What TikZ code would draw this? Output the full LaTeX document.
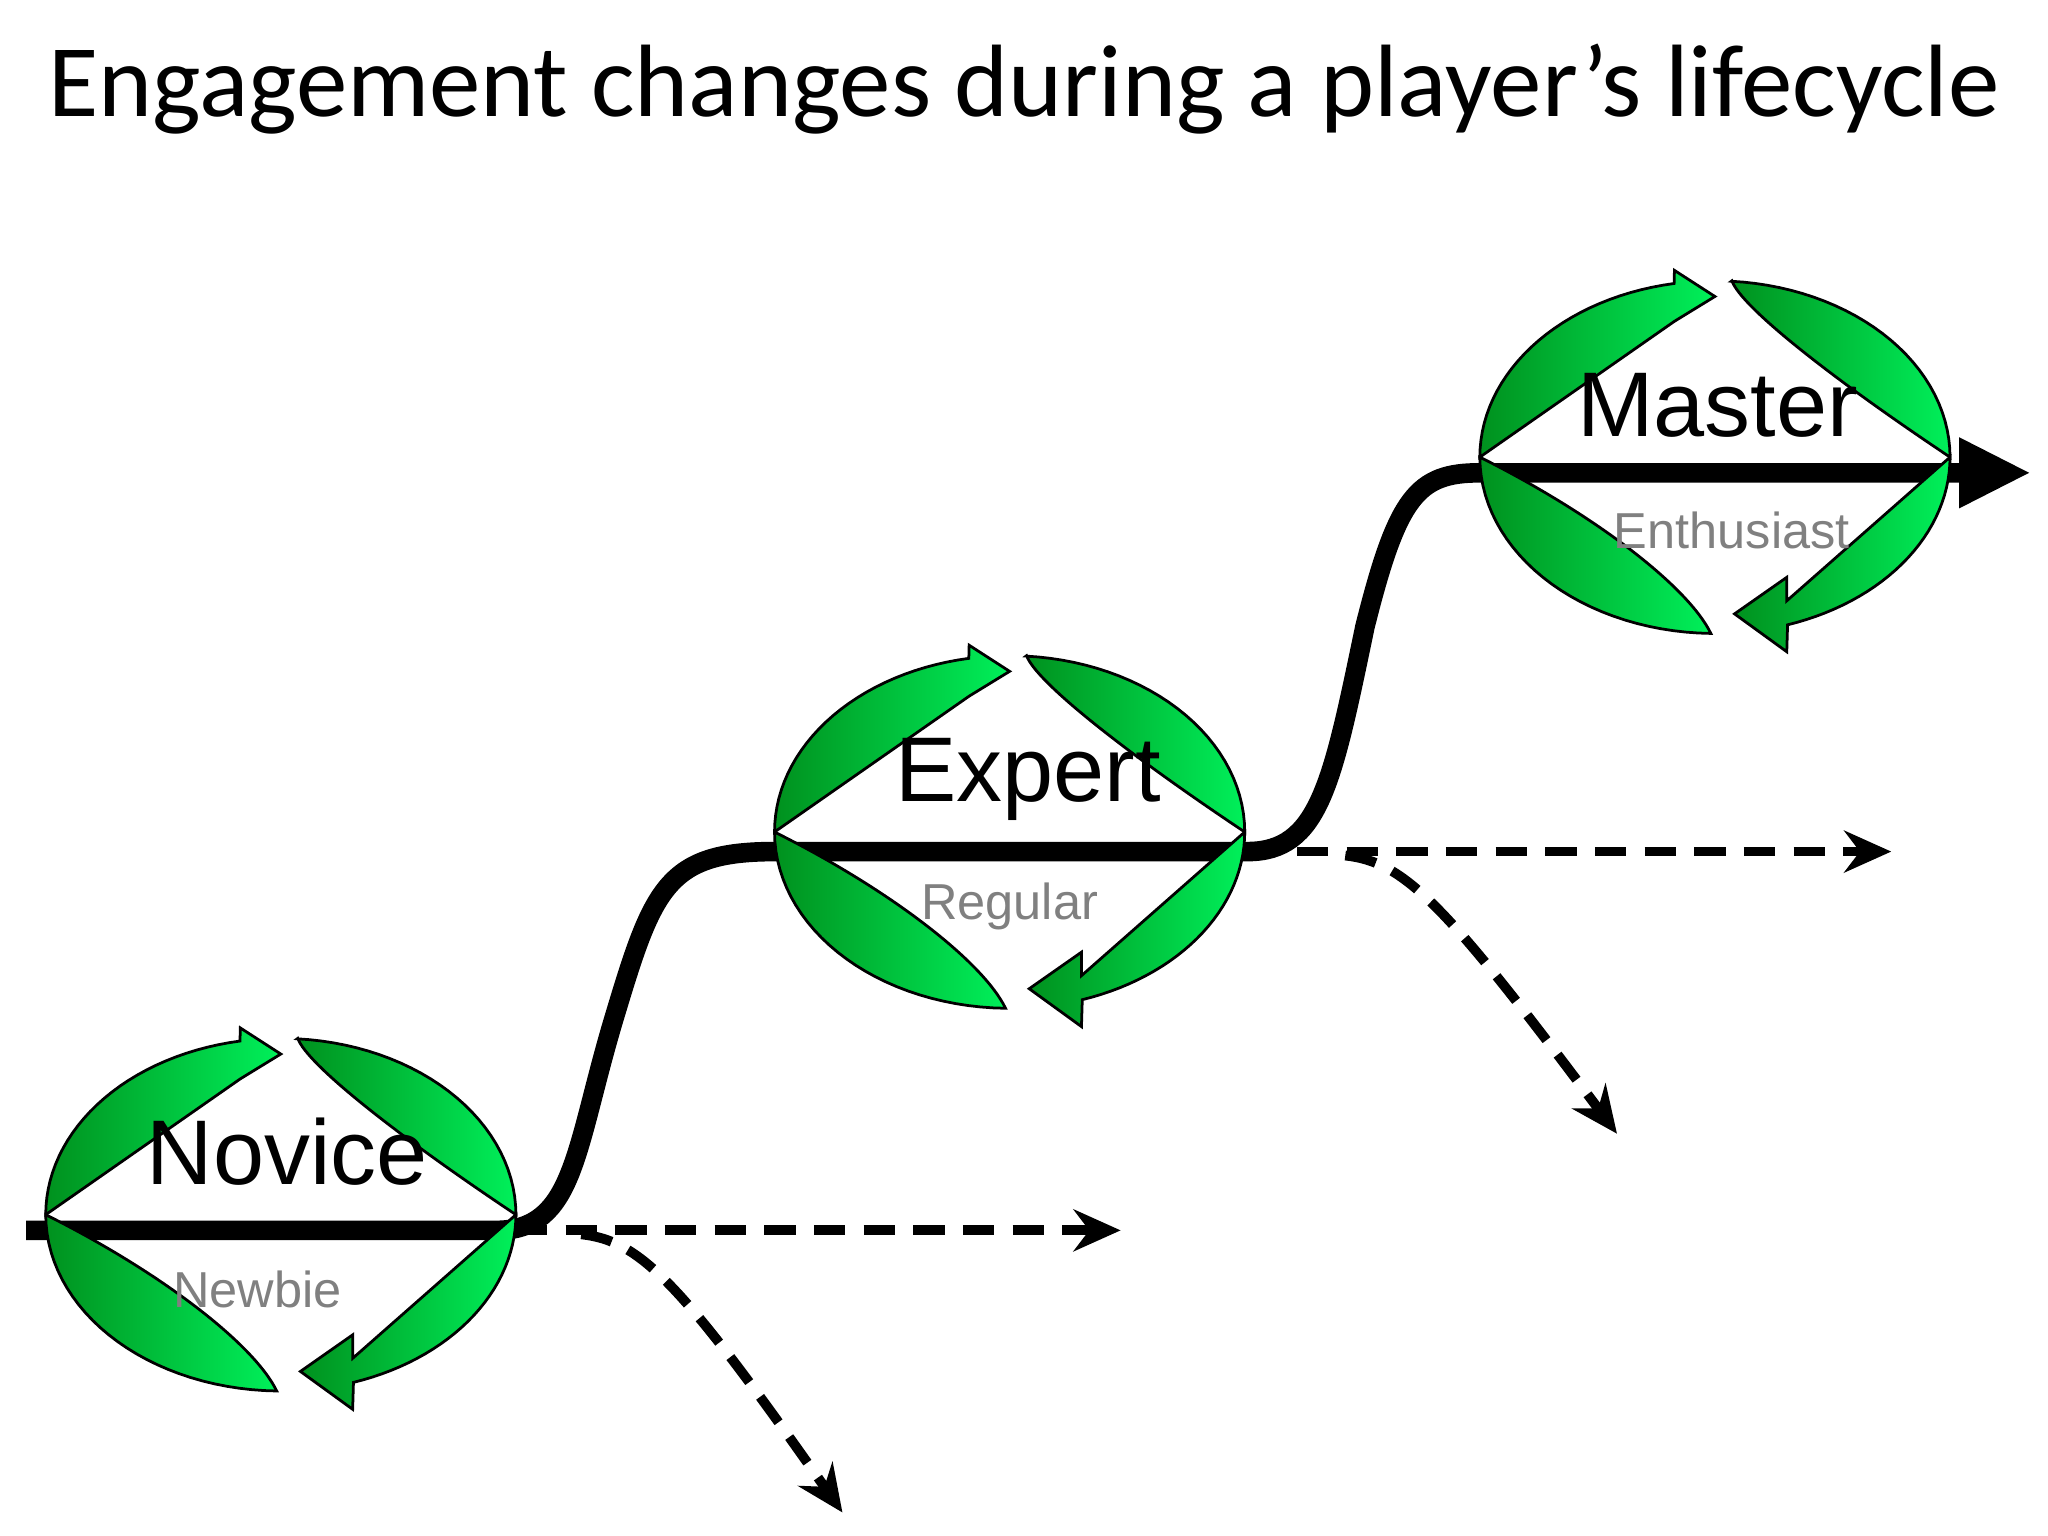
\documentclass[tikz,border=0pt]{standalone}
\usepackage{fontspec}
\setmainfont{Liberation Sans}
\newfontfamily\titlefont{Carlito}
\usetikzlibrary{arrows.meta}
\definecolor{gdark}{RGB}{0,145,30}
\definecolor{glight}{RGB}{0,240,90}
\tikzset{
  piece/.style={draw=black,line width=0.6pt,left color=gdark,right color=glight,shading angle=90},
  mainline/.style={line width=0.15cm,line cap=butt},
  dashline/.style={line width=0.075cm,dash pattern=on 0.24cm off 0.14cm,-{Stealth[length=0.36cm,width=0.32cm,inset=0.12cm]}},
  biglabel/.style={font=\fontsize{20}{24}\selectfont,text=black},
  smalllabel/.style={font=\fontsize{11}{13}\selectfont,text=black!50},
}
\newcommand{\cycle}[1]{%
\begin{scope}[shift={#1},yscale=-1]
 \path[piece] (-180,0) -- plot[domain=180:100,samples=30] ({180*cos(\x)},{135*sin(\x)}) -- (-31,143) -- (0,123) -- (-31,104) -- cycle;
 \path[piece] (13,135) -- plot[domain=86:0,samples=30] ({180*cos(\x)},{135*sin(\x)}) .. controls (90,60) and (20,115) .. (13,135) -- cycle;
 \path[piece] (-180,0) -- plot[domain=180:269,samples=30] ({180*cos(\x)},{135*sin(\x)}) .. controls (-20,-100) and (-90,-45) .. (-180,0) -- cycle;
 \path[piece] (180,0) -- plot[domain=0:-72,samples=30] ({180*cos(\x)},{135*sin(\x)}) -- (55,-149) -- (15,-120) -- (55,-92) -- (55,-110) -- cycle;
\end{scope}}
\begin{document}
\begin{tikzpicture}[x=0.01cm,y=-0.01cm]
\useasboundingbox (0,0) rectangle (1568,1176);
\node[font=\titlefont\fontsize{22.4}{26}\selectfont] (title) at (784,68) {Engagement changes during a player’s lifecycle};
\coordinate (n0) at (395,942); \coordinate (n1) at (858,942);
\coordinate (n2) at (445,945); \coordinate (n3) at (645,1158);
\coordinate (e0) at (955,652); \coordinate (e1) at (1448,652);
\coordinate (e2) at (1030,655); \coordinate (e3) at (1238,868);
\draw[dashline] (n0) -- (n1);
\draw[dashline] (n2) .. controls (490,950) and (520,980) .. (n3);
\draw[dashline] (e0) -- (e1);
\draw[dashline] (e2) .. controls (1075,660) and (1105,690) .. (e3);
\coordinate (m0) at (20,942); \coordinate (m1) at (380,942);
\coordinate (m2) at (593,652); \coordinate (m3) at (955,652);
\coordinate (m4) at (1133,362); \coordinate (m5) at (1555,362);
\draw[mainline,-{Triangle[length=0.55cm,width=0.5cm]}] (m0) -- (m1)
  .. controls (440,942) and (440,880) .. (470,780)
  .. controls (500,680) and (510,652) .. (m2) -- (m3)
  .. controls (1010,652) and (1020,600) .. (1045,480)
  .. controls (1070,380) and (1085,362) .. (m4) -- (m5);
\cycle{(215,930)}
\cycle{(773,637)}
\cycle{(1313,350)}
\node[biglabel] (novice) at (220,882) {Novice};
\node[smalllabel] (newbie) at (197,987) {Newbie};
\node[biglabel] (expert) at (787,597) {Expert};
\node[smalllabel] (regular) at (773,694) {Regular};
\node[biglabel] (master) at (1315,310) {Master};
\node[smalllabel] (enth) at (1326,406) {Enthusiast};
\end{tikzpicture}
\end{document}
